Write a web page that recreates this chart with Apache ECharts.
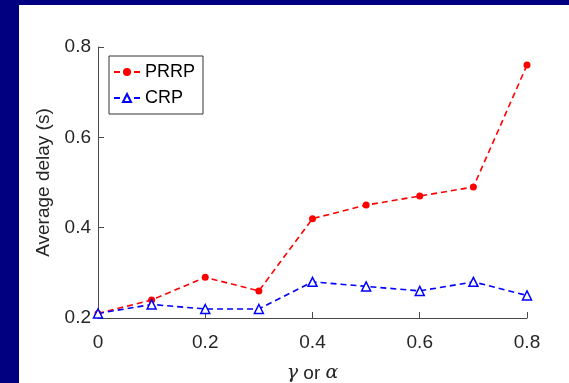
<!DOCTYPE html>
<html>
<head>
<meta charset="utf-8">
<script src="https://cdn.jsdelivr.net/npm/echarts@6/dist/echarts.min.js"></script>
<style>
  html, body { margin: 0; padding: 0; background: #000080; }
  #frame { position: absolute; left: 0; top: 0; width: 569px; height: 383px; background: #000080; }
  #chart { position: absolute; left: 19px; top: 5px; width: 550px; height: 378px; background: #fff; }
</style>
</head>
<body>
<div id="frame"><div id="chart"></div></div>
<script>
// x values (gamma or alpha)
const xValues = [0, 0.1, 0.2, 0.3, 0.4, 0.5, 0.6, 0.7, 0.8];
// average delay (s)
const prrp = [0.21, 0.24, 0.29, 0.26, 0.42, 0.45, 0.47, 0.49, 0.76];
const crp = [0.21, 0.23, 0.22, 0.22, 0.28, 0.27, 0.26, 0.28, 0.25];

const axisColor = '#4a4a4a';
const font = 'Liberation Sans, Arial, sans-serif';

const myChart = echarts.init(document.getElementById('chart'));

const option = {
    animation: false,
    grid: { left: 79, right: 42, top: 42, bottom: 65, outerBoundsMode: 'none' },
    legend: {
        orient: 'vertical',
        left: 90,
        top: 51,
        backgroundColor: '#fff',
        borderColor: '#333',
        borderWidth: 1,
        padding: [7, 8, 7, 4],
        itemGap: 8,
        itemWidth: 26,
        itemHeight: 10,
        textStyle: { fontFamily: font, fontSize: 18, color: '#000' },
        data: ['PRRP', 'CRP']
    },
    xAxis: {
        type: 'value',
        min: 0,
        max: 0.8,
        interval: 0.2,
        name: '{i|γ} or {i|α}',
        nameLocation: 'middle',
        nameGap: 46,
        nameTextStyle: {
            fontFamily: font, fontSize: 19, color: '#262626',
            rich: { i: { fontFamily: 'DejaVu Serif, serif', fontStyle: 'italic', fontSize: 19, color: '#262626' } }
        },
        axisLine: { onZero: false, lineStyle: { color: axisColor, width: 1 } },
        axisTick: { show: true, inside: true, length: 6, lineStyle: { color: axisColor } },
        axisLabel: { fontFamily: font, fontSize: 19, color: '#262626', margin: 15 },
        splitLine: { show: false }
    },
    yAxis: {
        type: 'value',
        min: 0.2,
        max: 0.8,
        interval: 0.2,
        name: 'Average delay (s)',
        nameLocation: 'middle',
        nameGap: 42,
        nameTextStyle: { fontFamily: font, fontSize: 19, color: '#262626' },
        axisLine: { show: true, onZero: false, lineStyle: { color: axisColor, width: 1 } },
        axisTick: { show: true, inside: true, length: 6, lineStyle: { color: axisColor } },
        axisLabel: { fontFamily: font, fontSize: 19, color: '#262626', margin: 7 },
        splitLine: { show: false }
    },
    series: [
        {
            name: 'PRRP',
            type: 'line',
            data: xValues.map((x, i) => [x, prrp[i]]),
            symbol: 'circle',
            symbolSize: 7,
            itemStyle: { color: '#ff0000' },
            lineStyle: { color: '#ff0000', width: 1.6, type: [6, 4] }
        },
        {
            name: 'CRP',
            type: 'line',
            data: xValues.map((x, i) => [x, crp[i]]),
            symbol: 'triangle',
            symbolSize: 9,
            itemStyle: { color: '#fff', borderColor: '#0000ff', borderWidth: 1.5 },
            lineStyle: { color: '#0000ff', width: 1.6, type: [6, 4] }
        }
    ]
};

myChart.setOption(option);
</script>
</body>
</html>
